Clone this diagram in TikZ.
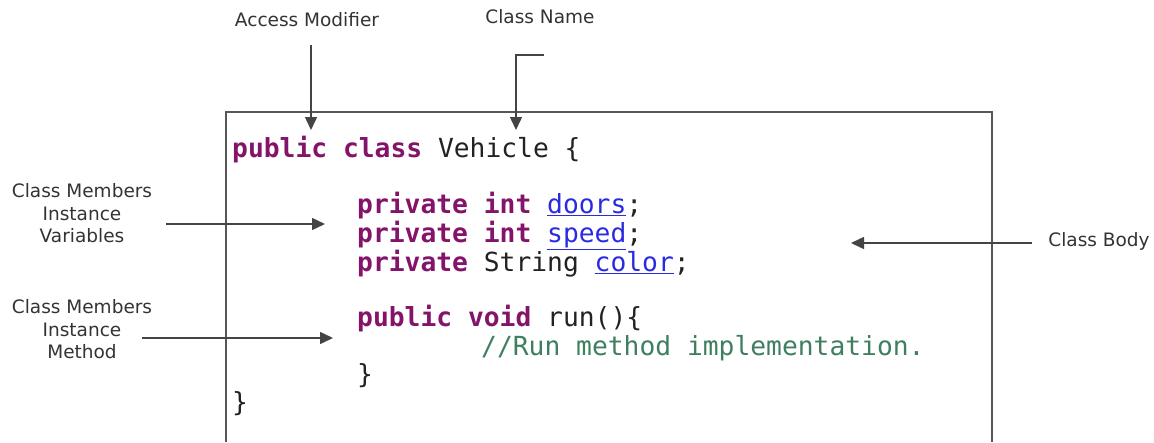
\documentclass[tikz,border=0pt]{standalone}
\usepackage{fontspec}
\setmainfont{DejaVu Sans}
\newfontfamily\codefont{DejaVu Sans Mono}
\usetikzlibrary{arrows.meta}
\definecolor{kw}{HTML}{84146A}
\definecolor{lnk}{HTML}{2A2AE0}
\definecolor{cmt}{HTML}{3F7F5F}
\definecolor{txt}{HTML}{222222}
\definecolor{lbl}{HTML}{333333}
\definecolor{arr}{HTML}{444444}
\newcommand{\kw}[1]{{\bfseries\color{kw}#1}}
\newcommand{\lk}[1]{{\color{lnk}\underline{#1}}}
\tikzset{
  lbltext/.style={font=\fontsize{18.5}{22.5}\selectfont, text=lbl, align=center, inner sep=0pt},
  codeline/.style={font=\codefont\fontsize{26.3}{30}\selectfont, text=txt, anchor=base west, inner sep=0pt},
  pointer/.style={draw=arr, line width=1.5pt, -{Triangle[length=13pt,width=12pt]}},
  boxline/.style={draw=arr!90, line width=1.6pt}
}
\begin{document}
\begin{tikzpicture}[x=1pt,y=-1pt]
\useasboundingbox (0,0) rectangle (1154,442);
% class body box (open at the bottom, cut by the page)
\draw[boxline] (226,442) -- (226,112) -- (992,112) -- (992,442);

% code lines
\node[codeline] (l1) at (232,157) {\kw{public} \kw{class} Vehicle \{};
\node[codeline] (l2) at (357,213) {\kw{private} \kw{int} \lk{doors};};
\node[codeline] (l3) at (357,242) {\kw{private} \kw{int} \lk{speed};};
\node[codeline] (l4) at (357,271) {\kw{private} String \lk{color};};
\node[codeline] (l5) at (357,326) {\kw{public} \kw{void} run()\{};
\node[codeline,text=cmt] (l6) at (481,355) {//Run method implementation.};
\node[codeline] (l7) at (357,383) {\}};
\node[codeline] (l8) at (232,411) {\}};

% labels
\node[lbltext] (am) at (307,20) {Access Modifier};
\node[lbltext] (cn) at (540,17) {Class Name};
\node[lbltext] (iv) at (82,213.5) {Class Members\\Instance\\Variables};
\node[lbltext] (im) at (82,329.5) {Class Members\\Instance\\Method};
\node[lbltext] (cb) at (1099,241) {Class Body};

% pointer coordinates
\coordinate (amS) at (311,45);
\coordinate (amE) at (311,130);
\coordinate (cnS) at (544,55);
\coordinate (cnK) at (516,55);
\coordinate (cnE) at (516,130);
\coordinate (ivS) at (166,224);
\coordinate (ivE) at (325,224);
\coordinate (imS) at (142,338);
\coordinate (imE) at (333,338);
\coordinate (cbS) at (1032,243);
\coordinate (cbE) at (851,243);

\draw[pointer] (amS) -- (amE);
\draw[pointer] (cnS) -- (cnK) -- (cnE);
\draw[pointer] (ivS) -- (ivE);
\draw[pointer] (imS) -- (imE);
\draw[pointer] (cbS) -- (cbE);
\end{tikzpicture}
\end{document}
